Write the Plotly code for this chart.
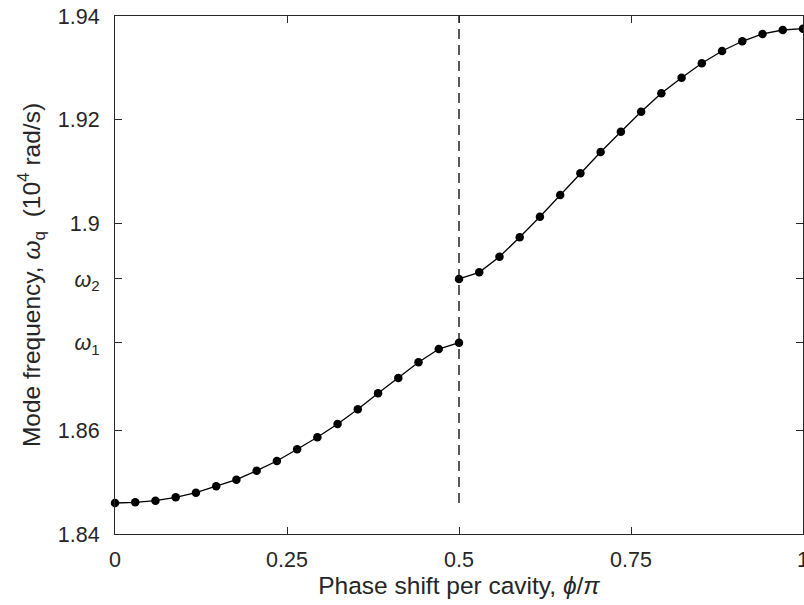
import plotly.graph_objects as go

# Data
x_left = [k / 34 for k in range(0, 18)]
y_left = [1.84598, 1.84612, 1.84643, 1.84708, 1.84797, 1.84921, 1.85048, 1.85222,
          1.85409, 1.85635, 1.85867, 1.86124, 1.86407, 1.86716, 1.87012, 1.87315,
          1.87571, 1.87693]
x_right = [k / 34 for k in range(17, 35)]
y_right = [1.88923, 1.89052, 1.89353, 1.89728, 1.90125, 1.90544, 1.90963, 1.91375,
           1.91767, 1.92153, 1.92508, 1.92809, 1.93087, 1.93324, 1.93512, 1.93653,
           1.93730, 1.93755]
omega1 = 1.87693
omega2 = 1.88923
x_ticks = [0, 0.25, 0.5, 0.75, 1]
x_ticktext = ["0", "0.25", "0.5", "0.75", "1"]
y_ticks = [1.84, 1.86, omega1, omega2, 1.9, 1.92, 1.94]
y_ticktext = ["1.84", "1.86", "<i>ω</i><sub>1</sub>", "<i>ω</i><sub>2</sub>", "1.9", "1.92", "1.94"]
dash_x = [0.5, 0.5]
dash_y = [1.84598, 1.94]

FONT = "Liberation Sans, Arial, sans-serif"
fig = go.Figure()
fig.add_trace(go.Scatter(x=dash_x, y=dash_y, mode="lines",
                         line=dict(color="black", width=1.3, dash="10px,6px"),
                         showlegend=False, hoverinfo="skip"))
for xs, ys in [(x_left, y_left), (x_right, y_right)]:
    fig.add_trace(go.Scatter(x=xs, y=ys, mode="lines+markers",
                             line=dict(color="black", width=1.3),
                             marker=dict(color="black", size=8.5),
                             showlegend=False, cliponaxis=False))

axis_common = dict(showline=True, linecolor="#262626", linewidth=1, mirror="ticks",
                   ticks="inside", ticklen=7, tickwidth=1, tickcolor="#262626",
                   showgrid=False, zeroline=False, ticklabeloverflow="allow",
                   automargin=False,
                   tickfont=dict(family=FONT, size=21.5, color="#262626"),
                   title_font=dict(family=FONT, size=24.5, color="#262626"))

fig.update_xaxes(range=[0, 1], tickvals=x_ticks, ticktext=x_ticktext,
                 title_text="Phase shift per cavity, <i>ϕ</i>/<i>π</i>", title_standoff=0,
                 ticklabelstandoff=6, **axis_common)
fig.update_yaxes(range=[1.84, 1.94], tickvals=y_ticks, ticktext=y_ticktext,
                 title_text="Mode frequency,\u00a0<i>ω</i><sub>q</sub>\u00a0 (10<sup>4</sup> rad/s)",
                 title_standoff=10, ticklabelstandoff=10, **axis_common)

fig.update_layout(width=804, height=605, margin=dict(l=115, r=1, t=16, b=71),
                  plot_bgcolor="white", paper_bgcolor="white")
fig.write_html("out.html")
